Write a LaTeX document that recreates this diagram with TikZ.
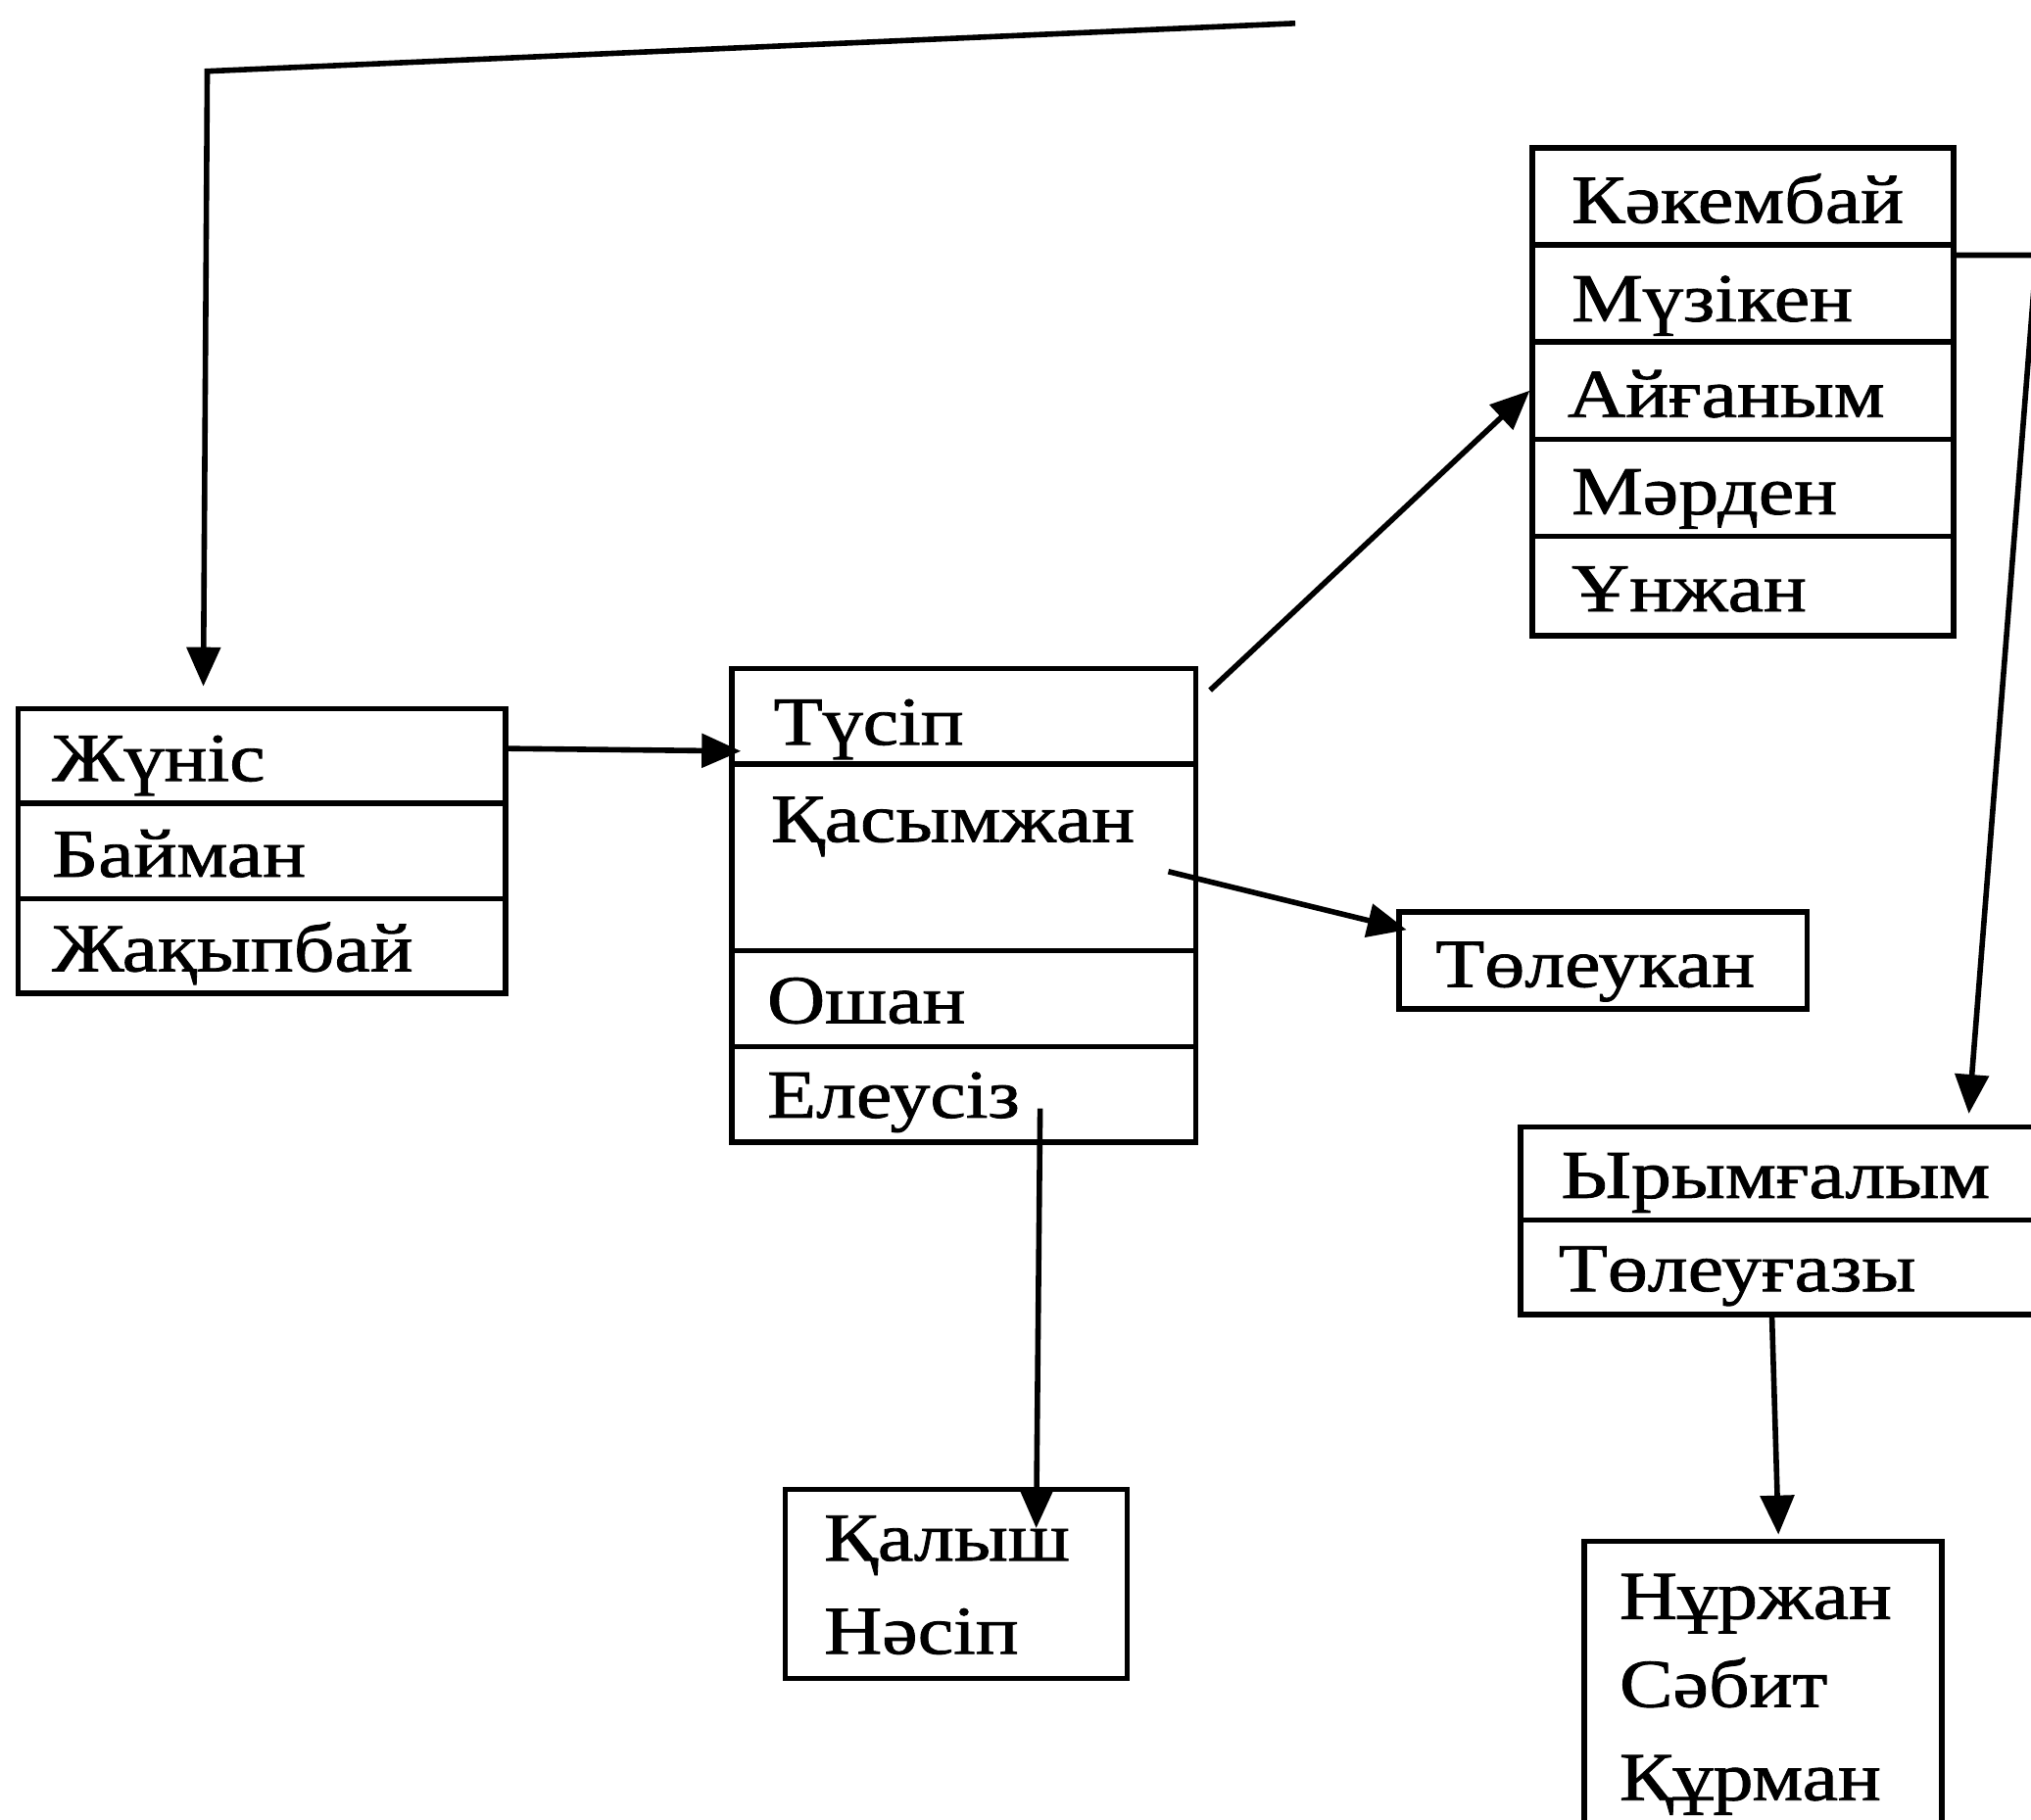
\documentclass[tikz,border=0pt]{standalone}
\usepackage{fontspec}
\setmainfont[FakeStretch=1.17,FakeBold=1.2]{Liberation Serif}
\usetikzlibrary{arrows.meta,calc}
\begin{document}
\begin{tikzpicture}[x=0.661pt,y=-0.661pt,
  cell/.style 2 args={draw, line width=2.8pt, anchor=north west, inner sep=0pt,
    minimum width=#1*0.661pt, minimum height=#2*0.661pt},
  lbl/.style={anchor=base west, inner sep=0pt, font=\fontsize{35}{40}\selectfont},
  conn/.style={line width=2.8pt},
  arr/.style={conn, -{Triangle[length=20pt,width=17pt]}}]
\useasboundingbox (0,0) rectangle (1568,1405);

% Box A
\node[cell={376}{73}] (a1) at (12,545) {};
\node[cell={376}{74}] (a2) at (12,618) {};
\node[cell={376}{73}] (a3) at (12,692) {};
\node[lbl] (ta1) at (40,603) {Жүніс};
\node[lbl] (ta2) at (40,677) {Байман};
\node[lbl] (ta3) at (40,750) {Жақыпбай};

% Box B
\node[cell={358}{74}] (b1) at (563,514) {};
\node[cell={358}{144}] (b2) at (563,588) {};
\node[cell={358}{74}] (b3) at (563,732) {};
\node[cell={358}{74}] (b4) at (563,806) {};
\node[lbl] (tb1) at (597,575) {Түсіп};
\node[lbl] (tb2) at (595,650) {Қасымжан};
\node[lbl] (tb3) at (592,790) {Ошан};
\node[lbl] (tb4) at (592,863) {Елеусіз};

% Box C
\node[cell={325}{75}] (c1) at (1181,112) {};
\node[cell={325}{75}] (c2) at (1181,187) {};
\node[cell={325}{75}] (c3) at (1181,262) {};
\node[cell={325}{75}] (c4) at (1181,337) {};
\node[cell={325}{77}] (c5) at (1181,412) {};
\node[lbl] (tc1) at (1213,172) {Кәкембай};
\node[lbl] (tc2) at (1213,248) {Мүзікен};
\node[lbl] (tc3) at (1210,322) {Айғаным};
\node[lbl] (tc4) at (1213,397) {Мәрден};
\node[lbl] (tc5) at (1213,472) {Ұнжан};

% Box D
\node[cell={315}{75}] (d) at (1078,702) {};
\node[lbl] (td) at (1108,762) {Төлеукан};

% Box E
\node[cell={420}{72}] (e1) at (1172,868) {};
\node[cell={420}{73}] (e2) at (1172,940) {};
\node[lbl] (te1) at (1205,925) {Ырымғалым};
\node[lbl] (te2) at (1203,997) {Төлеуғазы};

% Box F
\node[cell={276}{240}] (f) at (1221,1188) {};
\node[lbl] (tf1) at (1250,1250) {Нұржан};
\node[lbl] (tf2) at (1250,1318) {Сәбит};
\node[lbl] (tf3) at (1250,1390) {Құрман};

% Box G
\node[cell={264}{146}] (g) at (604,1148) {};
\node[lbl] (tg1) at (636,1205) {Қалыш};
\node[lbl] (tg2) at (636,1277) {Нәсіп};

% Connectors
\coordinate (topend) at (1000,18);
\coordinate (corner) at (160,55);
\draw[arr] (topend) -- (corner) -- ($(a1.north west)+(145,-15)$);
\draw[arr] ($(a1.north east)+(0,33)$) -- ($(b1.north west)+(9,66)$);
\draw[arr] ($(b1.north east)+(9,19)$) -- (c3.west);
\draw[arr] ($(c2.north east)+(-4,10)$) -- ++(66,0) -- ($(e1.north west)+(348,-8)$);
\draw[arr] ($(e2.south west)+(196,0)$) -- ($(f.north west)+(152,-3)$);
\draw[arr] ($(b2.north west)+(339,85)$) -- ($(d.north west)+(8,16)$);
\draw[arr] ($(b4.north west)+(240,50)$) -- ($(g.north west)+(196,32)$);
\end{tikzpicture}
\end{document}
